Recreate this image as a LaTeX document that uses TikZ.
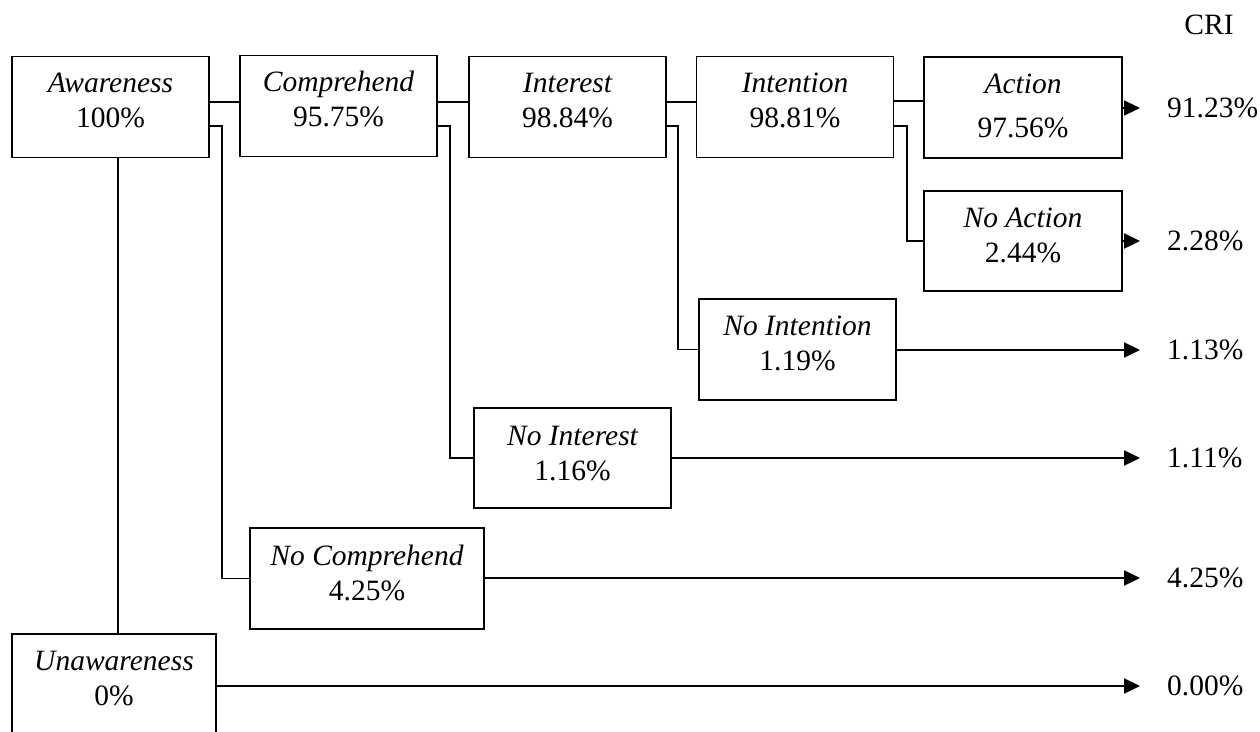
\documentclass[tikz,border=0pt]{standalone}
\usepackage{fontspec}
\setmainfont{Liberation Serif}
\usetikzlibrary{arrows.meta}
\newcommand\twol[3][0pt]{\vtop{\halign{\hfil##\hfil\cr\itshape #2\cr\noalign{\vskip #1}#3\cr}}}
\begin{document}
\begin{tikzpicture}[x=1pt,y=-1pt,
  box/.style={draw,line width=1.4pt,rectangle,minimum width=197pt,minimum height=101pt,inner sep=0pt},
  txt/.style={anchor=base,inner sep=0pt,font=\fontsize{29.5}{35}\selectfont},
  conn/.style={line width=1.2pt},
  arr/.style={line width=2.2pt,-{Triangle[length=16pt,width=15pt]}},
  pct/.style={anchor=base west,inner sep=0pt,font=\fontsize{29.5}{35}\selectfont}]
\useasboundingbox (0,0) rectangle (1260,731);
\clip (0,0) rectangle (1260,731);

% boxes
\node[box] (aw) at (110.5,107) {};
\node[box] (co) at (338.5,106) {};
\node[box] (in) at (567.5,107) {};
\node[box] (it) at (795,107) {};
\node[box, minimum width=198pt] (ac) at (1023,107.5) {};
\node[box, minimum width=198pt, minimum height=100pt] (na) at (1023,241) {};
\node[box] (ni) at (797.5,349.5) {};
\node[box, minimum height=100pt] (nt) at (572.5,458) {};
\node[box, minimum width=234pt] (nc) at (367,578.5) {};
\node[box, minimum width=204pt, minimum height=104pt] (un) at (114,686) {};

% texts
\node[txt] (awt) at ([yshift=-37pt]aw.north) {\twol{Awareness}{100\%}};
\node[txt] (cot) at ([yshift=-37pt]co.north) {\twol{Comprehend}{95.75\%}};
\node[txt] (int) at ([yshift=-37pt]in.north) {\twol{Interest}{98.84\%}};
\node[txt] (itt) at ([yshift=-37pt]it.north) {\twol{Intention}{98.81\%}};
\node[txt] (act) at ([yshift=-37pt]ac.north) {\twol[9pt]{Action}{97.56\%}};
\node[txt] (nat) at ([yshift=-37pt]na.north) {\twol{No Action}{2.44\%}};
\node[txt] (nit) at ([yshift=-37pt]ni.north) {\twol{No Intention}{1.19\%}};
\node[txt] (ntt) at ([yshift=-38pt]nt.north) {\twol{No Interest}{1.16\%}};
\node[txt] (nct) at ([yshift=-38pt]nc.north) {\twol{No Comprehend}{4.25\%}};
\node[txt] (unt) at ([yshift=-37pt]un.north) {\twol{Unawareness}{0\%}};

\node[txt] (cri) at (1209,34) {CRI};

% helper coordinates
\coordinate (h1) at (0,102);
\coordinate (h2) at (0,126);
\coordinate (h3) at (0,101);
\coordinate (vx) at (118,0);
\coordinate (b1) at (222,0);
\coordinate (b2) at (450,0);
\coordinate (b3) at (678,0);
\coordinate (b4) at (907,0);

% connectors
\draw[conn] (aw.east |- h1) -- (co.west |- h1);
\draw[conn] (co.east |- h1) -- (in.west |- h1);
\draw[conn] (in.east |- h1) -- (it.west |- h1);
\draw[conn] (it.east |- h3) -- (ac.west |- h3);

\draw[conn] (aw.east |- h2) -- (b1 |- h2) -- (b1 |- nc.west) -- (nc.west);
\draw[conn] (co.east |- h2) -- (b2 |- h2) -- (b2 |- nt.west) -- (nt.west);
\draw[conn] (in.east |- h2) -- (b3 |- h2) -- (b3 |- ni.west) -- (ni.west);
\draw[conn] (it.east |- h2) -- (b4 |- h2) -- (b4 |- na.west) -- (na.west);
\draw[conn] (aw.south -| vx) -- (un.north -| vx);

% arrow tips
\coordinate (tA) at (1140,108);
\coordinate (tB) at (1140,241);
\coordinate (tC) at (1140,350);
\coordinate (tD) at (1140,458);
\coordinate (tE) at (1140,578);
\coordinate (tF) at (1140,686);

\draw[arr] (ac.east |- tA) -- (tA);
\draw[arr] (na.east |- tB) -- (tB);
\draw[arr] (ni.east |- tC) -- (tC);
\draw[arr] (nt.east |- tD) -- (tD);
\draw[arr] (nc.east |- tE) -- (tE);
\draw[arr] (un.east |- tF) -- (tF);

\node[pct] (pA) at ([xshift=27pt,yshift=-9pt]tA) {91.23\%};
\node[pct] (pB) at ([xshift=27pt,yshift=-9pt]tB) {2.28\%};
\node[pct] (pC) at ([xshift=27pt,yshift=-9pt]tC) {1.13\%};
\node[pct] (pD) at ([xshift=27pt,yshift=-9pt]tD) {1.11\%};
\node[pct] (pE) at ([xshift=27pt,yshift=-9pt]tE) {4.25\%};
\node[pct] (pF) at ([xshift=27pt,yshift=-9pt]tF) {0.00\%};
\end{tikzpicture}
\end{document}
